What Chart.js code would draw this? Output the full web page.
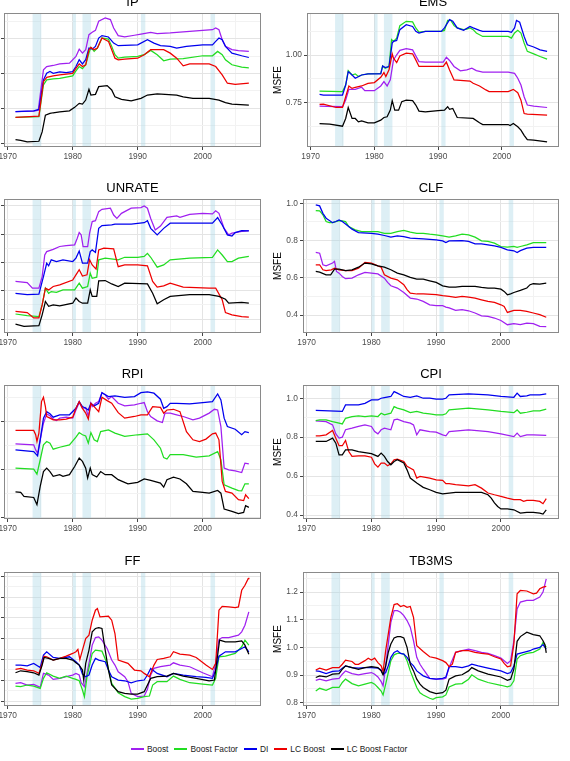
<!DOCTYPE html>
<html><head><meta charset="utf-8">
<script src="https://cdn.jsdelivr.net/npm/chart.js@4/dist/chart.umd.min.js"></script>
<style>
html,body{margin:0;padding:0;width:570px;height:761px;overflow:hidden;background:#fff;font-family:"Liberation Sans",Arial,sans-serif;position:relative;}
canvas{position:absolute;}
.ptitle{position:absolute;font-size:13px;line-height:16px;height:16px;color:#000;text-align:center;white-space:nowrap;}
#legend{position:absolute;left:131px;top:743px;height:12px;display:flex;align-items:center;font-size:8.4px;color:#1a1a1a;white-space:nowrap;}
.item{display:flex;align-items:center;margin-right:6px;}
.key{display:inline-block;width:13px;height:1.6px;margin-right:3px;}
</style></head><body>
<div id="legend"></div>
<script>
// ---------------- DATA ----------------
const seriesNames = ['Boost','Boost Factor','DI','LC Boost','LC Boost Factor'];
const seriesColors = ['#A020F0','#22DD22','#0000EE','#EE0000','#000000'];
const recessions = [[1973.83,1975.17],[1980.0,1980.5],[1981.5,1982.83],[1990.5,1991.17],[2001.2,2001.9]];
const xTicks = [1970,1975,1980,1985,1990,1995,2000,2005];
const xMajor = [1970,1980,1990,2000];
const xRange = [1969.43,2008.97];

// IP
const IP_boost = [[1971.2,0.780],[1974,0.783],[1974.7,0.789],[1975.5,1.021],[1976,1.040],[1977,1.046],[1978,1.055],[1979.5,1.059],[1980.5,1.098],[1981,1.140],[1981.5,1.117],[1982,1.137],[1982.5,1.223],[1983,1.237],[1983.5,1.248],[1984,1.301],[1985,1.320],[1985.8,1.310],[1986.3,1.262],[1987,1.218],[1988,1.210],[1989.5,1.220],[1990.5,1.227],[1992,1.237],[1993,1.229],[1995,1.233],[1997,1.239],[2000,1.248],[2001.5,1.252],[2002,1.262],[2002.5,1.252],[2003,1.194],[2003.5,1.156],[2004.5,1.137],[2005.5,1.131],[2007.1,1.127]];
const IP_boostFactor = [[1971.2,0.747],[1974.8,0.751],[1975.5,0.934],[1976,0.963],[1977,0.969],[1978,0.972],[1980,0.986],[1980.5,1.015],[1981,1.040],[1981.5,1.028],[1982,1.050],[1982.5,1.117],[1982.8,1.150],[1983.3,1.127],[1983.8,1.146],[1984.5,1.204],[1985.5,1.198],[1986,1.156],[1986.5,1.108],[1987,1.088],[1988,1.094],[1990,1.098],[1991,1.108],[1992,1.133],[1993,1.108],[1994,1.073],[1995,1.083],[1997,1.086],[2000,1.102],[2001.5,1.102],[2002.3,1.127],[2003,1.108],[2003.5,1.079],[2004.5,1.050],[2006,1.036],[2007.1,1.032]];
const IP_di = [[1971.2,0.780],[1974,0.785],[1974.8,0.793],[1975.5,0.963],[1976,1.001],[1976.5,1.011],[1977,1.001],[1978,1.009],[1979,1.005],[1980,1.011],[1980.5,1.040],[1981,1.079],[1981.5,1.055],[1982,1.079],[1982.5,1.146],[1983,1.140],[1983.5,1.156],[1984,1.204],[1984.5,1.218],[1985.5,1.210],[1986.3,1.175],[1987,1.160],[1990,1.165],[1991.5,1.194],[1992.5,1.175],[1993.5,1.160],[1995,1.156],[1996,1.146],[1997.5,1.156],[2000,1.165],[2001.5,1.165],[2002,1.185],[2002.5,1.204],[2003,1.194],[2003.5,1.156],[2004.5,1.117],[2006,1.102],[2007.1,1.092]];
const IP_lcBoost = [[1971.2,0.747],[1974.8,0.754],[1975.5,0.953],[1976,0.978],[1977,0.986],[1978,0.992],[1980,1.001],[1980.5,1.030],[1981,1.055],[1981.5,1.040],[1982,1.050],[1982.5,1.137],[1982.8,1.150],[1983.3,1.137],[1983.8,1.146],[1984.5,1.204],[1985.5,1.185],[1986,1.137],[1986.5,1.088],[1987,1.079],[1988,1.083],[1990,1.088],[1991,1.108],[1992,1.137],[1994,1.137],[1995,1.117],[1996,1.088],[1997,1.044],[1998,1.055],[2001,1.055],[2002,1.040],[2003,0.992],[2003.8,0.944],[2005,0.938],[2007.1,0.944]];
const IP_lcBoostFactor = [[1971.2,0.619],[1972,0.615],[1973,0.606],[1974.8,0.610],[1975.3,0.664],[1975.8,0.760],[1976.5,0.770],[1977,0.774],[1978,0.779],[1979.5,0.785],[1980.3,0.805],[1981,0.828],[1981.5,0.824],[1982,0.847],[1982.5,0.909],[1982.8,0.876],[1983.5,0.880],[1984,0.924],[1985.3,0.930],[1986,0.905],[1986.5,0.866],[1987.5,0.851],[1989,0.843],[1990.5,0.857],[1991.5,0.876],[1993,0.882],[1996,0.876],[1997,0.866],[1998.5,0.857],[2001,0.857],[2002.5,0.847],[2003.5,0.832],[2004.5,0.824],[2007.1,0.818]];
const IP_yRange = [0.577,1.348];
const IP_yTicks = [0.6,0.7,0.8,0.9,1.0,1.1,1.2,1.3];
const IP_yMajor = [0.6,0.8,1.0,1.2];

// EMS
const EMS_boost = [[1971.4,0.730],[1975,0.727],[1975.5,0.762],[1976,0.819],[1977,0.819],[1978,0.830],[1978.5,0.812],[1980,0.812],[1981,0.837],[1981.5,0.860],[1982,0.837],[1982.5,0.869],[1983,0.975],[1983.5,1.002],[1984,1.025],[1985,1.034],[1986,1.028],[1986.5,0.996],[1987,0.966],[1988,0.963],[1990.8,0.963],[1991.3,0.989],[1991.8,0.972],[1992.5,0.940],[1993.5,0.917],[1994.5,0.922],[1995.3,0.931],[1996,0.918],[1997,0.910],[2001,0.910],[2002,0.904],[2002.5,0.878],[2003,0.842],[2003.5,0.780],[2004,0.736],[2005,0.730],[2007.1,0.723]];
const EMS_boostFactor = [[1971.4,0.810],[1975,0.807],[1975.5,0.842],[1975.9,0.918],[1976.5,0.895],[1977,0.901],[1977.5,0.887],[1978,0.895],[1979,0.901],[1981,0.904],[1981.3,0.943],[1981.7,0.931],[1982.3,0.940],[1982.7,1.082],[1983,1.073],[1983.5,1.090],[1984,1.156],[1985,1.179],[1986,1.176],[1986.5,1.144],[1987,1.122],[1988,1.126],[1990.5,1.126],[1991,1.131],[1991.5,1.184],[1992,1.184],[1992.5,1.156],[1993,1.144],[1994,1.135],[1994.5,1.138],[1995,1.144],[1995.5,1.135],[1996,1.117],[1997,1.099],[2001,1.099],[2001.5,1.090],[2002,1.117],[2002.5,1.131],[2003,1.117],[2003.5,1.064],[2004,1.020],[2005,1.007],[2006,0.993],[2007.1,0.979]];
const EMS_di = [[1971.4,0.793],[1972,0.789],[1975,0.789],[1975.5,0.842],[1975.9,0.913],[1976.5,0.895],[1977,0.878],[1978,0.895],[1979,0.901],[1981,0.901],[1981.3,0.943],[1981.7,0.934],[1982.3,0.940],[1982.8,1.064],[1983,1.073],[1983.5,1.078],[1984,1.135],[1985,1.161],[1986,1.152],[1986.5,1.126],[1987,1.117],[1988,1.126],[1990.5,1.126],[1991,1.144],[1991.8,1.188],[1992.3,1.179],[1993,1.144],[1994,1.131],[1995,1.152],[1995.5,1.144],[1996.5,1.131],[1997,1.126],[2001,1.126],[2001.5,1.121],[2002,1.144],[2002.3,1.184],[2002.8,1.174],[2003.5,1.099],[2004,1.055],[2005,1.043],[2006,1.028],[2007.1,1.020]];
const EMS_lcBoost = [[1971.4,0.739],[1972,0.741],[1974,0.723],[1975,0.723],[1975.5,0.780],[1976,0.837],[1976.5,0.824],[1977,0.830],[1978,0.837],[1979,0.851],[1980,0.855],[1981,0.883],[1981.5,0.908],[1981.8,0.887],[1982.3,0.922],[1982.8,1.007],[1983,0.984],[1983.5,0.961],[1984,0.996],[1985,1.011],[1986,1.007],[1986.5,0.975],[1987,0.940],[1990.8,0.940],[1991.3,0.963],[1991.8,0.922],[1992.5,0.869],[1995,0.863],[1995.5,0.851],[1996.5,0.837],[1997.5,0.816],[1998,0.807],[2001,0.807],[2001.8,0.819],[2002.5,0.801],[2003,0.762],[2003.5,0.691],[2004,0.688],[2007.1,0.683]];
const EMS_lcBoostFactor = [[1971.4,0.638],[1973,0.635],[1975,0.624],[1975.5,0.665],[1975.9,0.723],[1976.5,0.665],[1977,0.665],[1977.5,0.647],[1978,0.652],[1979,0.642],[1980,0.642],[1981,0.656],[1981.5,0.670],[1982,0.674],[1982.5,0.709],[1982.8,0.759],[1983.2,0.709],[1983.8,0.709],[1984.3,0.754],[1985,0.762],[1986,0.759],[1986.5,0.736],[1987,0.704],[1988,0.700],[1990,0.706],[1991,0.709],[1991.5,0.727],[1991.8,0.713],[1992.3,0.718],[1993,0.670],[1995.5,0.665],[1996.5,0.642],[1997,0.633],[2001,0.633],[2001.3,0.628],[2001.8,0.638],[2002.5,0.621],[2003,0.603],[2003.5,0.576],[2004,0.553],[2005,0.550],[2007.1,0.541]];
const EMS_yRange = [0.514,1.223];
const EMS_yTicks = [0.625,0.75,0.875,1.0,1.125];
const EMS_yMajor = [0.75,1.0];

// UNRATE
const UNRATE_boost = [[1971.2,0.733],[1973,0.729],[1973.8,0.709],[1974.8,0.709],[1975.3,0.750],[1975.7,0.826],[1976,0.838],[1977,0.846],[1978,0.856],[1979,0.859],[1980.3,0.862],[1980.7,0.885],[1981,0.905],[1981.3,0.897],[1981.6,0.856],[1982.3,0.856],[1982.6,0.903],[1983,0.944],[1983.5,0.947],[1984,0.979],[1984.5,0.987],[1985.8,0.991],[1986.3,0.967],[1986.8,0.955],[1987.5,0.973],[1989,0.991],[1990.5,0.993],[1991,0.999],[1991.5,0.991],[1992,0.955],[1992.7,0.914],[1993.5,0.928],[1994.5,0.959],[1996,0.964],[1996.5,0.959],[1998,0.969],[2000,0.973],[2001.5,0.971],[2002,0.982],[2002.5,0.973],[2003.3,0.920],[2004,0.897],[2004.5,0.903],[2005,0.905],[2006,0.909],[2007.1,0.912]];
const UNRATE_boostFactor = [[1971.2,0.618],[1973,0.612],[1974.8,0.609],[1975.3,0.650],[1975.8,0.709],[1976.3,0.691],[1976.7,0.697],[1977.5,0.694],[1978.5,0.703],[1980.3,0.703],[1981,0.727],[1981.5,0.709],[1982.3,0.715],[1982.7,0.762],[1983,0.744],[1983.7,0.748],[1984,0.809],[1985,0.815],[1986.5,0.811],[1987,0.809],[1988,0.818],[1990,0.818],[1991,0.821],[1991.5,0.832],[1992,0.818],[1993,0.783],[1994,0.791],[1995,0.809],[1998,0.815],[2001.5,0.818],[2002.3,0.844],[2003,0.826],[2003.8,0.803],[2004.5,0.803],[2005.5,0.815],[2007.1,0.821]];
const UNRATE_di = [[1971.2,0.691],[1973,0.686],[1974.8,0.688],[1975.5,0.750],[1976,0.797],[1976.3,0.788],[1976.7,0.809],[1977.5,0.803],[1978.5,0.809],[1980,0.803],[1980.5,0.815],[1981,0.840],[1981.5,0.797],[1982.3,0.797],[1982.7,0.838],[1983,0.844],[1983.5,0.835],[1984,0.920],[1984.5,0.930],[1986,0.932],[1986.5,0.935],[1989,0.935],[1991,0.940],[1991.5,0.947],[1992,0.920],[1993,0.897],[1994,0.920],[1995,0.938],[1997,0.938],[2000,0.938],[2001.5,0.938],[2002.3,0.958],[2003,0.932],[2003.8,0.897],[2004.5,0.893],[2005,0.905],[2006,0.912],[2007.1,0.911]];
const UNRATE_lcBoost = [[1971.2,0.627],[1973,0.623],[1974,0.604],[1974.8,0.604],[1975.3,0.650],[1975.8,0.709],[1976.3,0.703],[1977,0.715],[1978,0.721],[1980,0.738],[1980.5,0.756],[1981,0.774],[1981.5,0.752],[1982.2,0.756],[1982.6,0.809],[1983,0.791],[1983.6,0.776],[1984,0.844],[1984.8,0.850],[1986.3,0.848],[1987,0.785],[1988,0.791],[1990,0.791],[1991.5,0.788],[1992.3,0.733],[1993,0.713],[1994,0.717],[1995,0.727],[1997,0.713],[2001,0.709],[2002,0.709],[2003,0.668],[2003.5,0.623],[2004.5,0.615],[2006,0.609],[2007.1,0.607]];
const UNRATE_lcBoostFactor = [[1971.2,0.582],[1972.5,0.574],[1974.8,0.577],[1975.3,0.615],[1975.8,0.662],[1976.3,0.645],[1977,0.650],[1978,0.647],[1980,0.656],[1980.5,0.674],[1981,0.662],[1981.5,0.656],[1982.3,0.656],[1982.7,0.703],[1983,0.680],[1983.7,0.680],[1984,0.735],[1985,0.736],[1986,0.724],[1987,0.715],[1988,0.727],[1991.5,0.724],[1992.3,0.691],[1993,0.654],[1994,0.668],[1995,0.680],[1998,0.686],[2001,0.686],[2002.5,0.680],[2003.5,0.670],[2004,0.656],[2006,0.659],[2007.1,0.656]];
const UNRATE_yRange = [0.551,1.0235];
const UNRATE_yTicks = [0.6,0.65,0.7,0.75,0.8,0.85,0.9,0.95,1.0];
const UNRATE_yMajor = [0.6,0.7,0.8,0.9,1.0];

// CLF
const CLF_boost = [[1971.4,0.736],[1972,0.732],[1972.5,0.670],[1973,0.664],[1974,0.679],[1974.3,0.688],[1974.6,0.634],[1975,0.625],[1975.5,0.607],[1976,0.595],[1977,0.598],[1978,0.616],[1979,0.629],[1980,0.625],[1981,0.621],[1982,0.598],[1982.5,0.575],[1983,0.557],[1984,0.545],[1985,0.521],[1986,0.491],[1987,0.486],[1988,0.473],[1989,0.455],[1990,0.450],[1991,0.450],[1991.5,0.443],[1992,0.438],[1993,0.425],[1994,0.429],[1995,0.423],[1996,0.411],[1997,0.396],[1998,0.393],[1999,0.384],[2000,0.371],[2001,0.348],[2002,0.354],[2003,0.348],[2004,0.357],[2005,0.354],[2006,0.339],[2007,0.338]];
const CLF_boostFactor = [[1971.4,0.961],[1972,0.959],[1972.5,0.938],[1973,0.902],[1973.5,0.896],[1974,0.896],[1974.5,0.902],[1975,0.907],[1975.5,0.905],[1976,0.902],[1976.5,0.875],[1977.5,0.857],[1978.5,0.848],[1980,0.848],[1981,0.848],[1982,0.839],[1983,0.839],[1984,0.848],[1985,0.854],[1986,0.845],[1987,0.839],[1988,0.839],[1989,0.834],[1990,0.830],[1991,0.825],[1992,0.818],[1993,0.825],[1994,0.834],[1995,0.830],[1996,0.818],[1997,0.798],[1998,0.795],[1999,0.786],[2000,0.768],[2001,0.764],[2002,0.768],[2002.5,0.763],[2003,0.768],[2004,0.777],[2005,0.789],[2007,0.789]];
const CLF_di = [[1971.4,0.991],[1972,0.986],[1972.5,0.946],[1973,0.920],[1974,0.896],[1974.5,0.902],[1975,0.911],[1975.5,0.902],[1976,0.889],[1977,0.861],[1978,0.843],[1980,0.839],[1981,0.834],[1982,0.827],[1983,0.818],[1984,0.825],[1985,0.821],[1986,0.813],[1988,0.809],[1990,0.804],[1991,0.798],[1991.5,0.789],[1992,0.798],[1994,0.800],[1995,0.795],[1996,0.782],[1997,0.782],[1998,0.777],[1999,0.771],[2000,0.763],[2001,0.750],[2002,0.745],[2002.5,0.736],[2003,0.746],[2004,0.759],[2005,0.763],[2007,0.763]];
const CLF_lcBoost = [[1971.4,0.670],[1972,0.670],[1972.5,0.643],[1973,0.638],[1973.8,0.643],[1974.3,0.652],[1975,0.643],[1976,0.639],[1977,0.639],[1978,0.652],[1979,0.682],[1980,0.679],[1981,0.664],[1981.5,0.657],[1982,0.616],[1983,0.598],[1984,0.589],[1985,0.563],[1985.5,0.536],[1986,0.518],[1987,0.513],[1988,0.513],[1990,0.509],[1991,0.504],[1992,0.500],[1993,0.495],[1994,0.500],[1995,0.496],[1996,0.491],[1997,0.482],[1998,0.473],[1999,0.468],[2000,0.455],[2000.5,0.446],[2001,0.414],[2002,0.425],[2003,0.425],[2004,0.420],[2005,0.411],[2006,0.402],[2007,0.388]];
const CLF_lcBoostFactor = [[1971.4,0.634],[1972,0.630],[1973,0.616],[1973.7,0.616],[1974.3,0.646],[1975,0.646],[1976,0.639],[1977,0.643],[1978,0.657],[1979,0.679],[1980,0.675],[1981,0.664],[1982,0.657],[1983,0.643],[1984,0.625],[1985,0.616],[1986,0.602],[1987,0.593],[1988,0.593],[1989,0.584],[1990,0.575],[1991,0.557],[1992,0.550],[1993,0.550],[1994,0.554],[1995,0.554],[1996,0.554],[1997,0.548],[1998,0.545],[1999,0.545],[2000,0.539],[2000.5,0.527],[2001,0.509],[2001.5,0.514],[2002,0.521],[2003,0.532],[2004,0.545],[2004.5,0.563],[2005,0.568],[2006,0.566],[2007,0.571]];
const CLF_yRange = [0.3036,1.023];
const CLF_yTicks = [0.4,0.5,0.6,0.7,0.8,0.9,1.0];
const CLF_yMajor = [0.4,0.6,0.8,1.0];

// RPI
const RPI_boost = [[1971.2,0.907],[1974,0.903],[1974.3,0.882],[1974.6,0.868],[1975,0.924],[1975.5,0.993],[1976,1.032],[1976.5,1.024],[1977,1.010],[1977.5,1.004],[1978,1.014],[1979,1.018],[1980,1.014],[1980.5,1.048],[1981,1.079],[1981.5,1.055],[1982,1.058],[1982.4,1.021],[1982.8,1.076],[1983,1.062],[1983.5,1.076],[1984,1.083],[1984.5,1.120],[1985,1.111],[1985.5,1.093],[1986,1.104],[1987,1.076],[1988,1.065],[1989.5,1.069],[1990.5,1.076],[1991,1.079],[1991.5,1.041],[1992,1.021],[1993,1.003],[1993.8,0.996],[1994.2,1.035],[1995,1.035],[1996,1.028],[1997,1.021],[1998.5,1.007],[1999.5,1.014],[2001,1.035],[2001.8,1.051],[2002.3,1.048],[2002.8,0.979],[2003.3,0.806],[2004,0.799],[2005,0.795],[2006,0.788],[2006.5,0.827],[2007.1,0.824]];
const RPI_boostFactor = [[1971.2,0.806],[1974,0.802],[1974.5,0.781],[1975,0.841],[1975.5,0.903],[1976,0.917],[1976.5,0.910],[1977,0.885],[1978,0.893],[1979.5,0.903],[1980.5,0.935],[1981,0.954],[1981.5,0.945],[1982,0.940],[1982.4,0.910],[1982.8,0.954],[1983.3,0.924],[1983.8,0.917],[1984.3,0.958],[1985.5,0.965],[1986.5,0.952],[1988,0.938],[1990,0.945],[1991.5,0.949],[1992.5,0.924],[1993.5,0.889],[1994,0.850],[1994.5,0.844],[1995,0.862],[1997,0.862],[1999,0.852],[2001,0.857],[2002.3,0.875],[2002.8,0.841],[2003.3,0.737],[2004.5,0.723],[2005.5,0.713],[2006,0.712],[2006.5,0.741],[2007.1,0.741]];
const RPI_di = [[1971.2,0.882],[1974,0.875],[1974.6,0.857],[1975,0.924],[1975.5,1.014],[1976,1.041],[1976.5,1.032],[1977,1.018],[1978,1.028],[1979.5,1.028],[1980.5,1.055],[1981,1.083],[1981.5,1.062],[1982,1.055],[1982.4,1.048],[1982.8,1.076],[1983.3,1.065],[1984,1.076],[1984.5,1.120],[1985.5,1.104],[1986.5,1.107],[1988,1.101],[1989.5,1.104],[1990.5,1.120],[1991.5,1.123],[1992.5,1.118],[1993.5,1.093],[1994,1.055],[1994.5,1.062],[1995,1.076],[1996,1.076],[1998,1.073],[2000,1.079],[2001.5,1.083],[2002.3,1.115],[2002.8,1.090],[2003.3,1.014],[2003.8,0.979],[2005,0.968],[2006,0.945],[2006.5,0.958],[2007.1,0.954]];
const RPI_lcBoost = [[1971.2,0.963],[1974,0.963],[1974.3,0.945],[1974.5,0.917],[1974.8,0.952],[1975.2,1.083],[1975.5,1.101],[1975.8,1.062],[1976,1.021],[1976.5,1.014],[1977,1.007],[1978,1.007],[1979,1.010],[1980,1.018],[1980.5,1.055],[1981,1.083],[1981.5,1.055],[1982,1.035],[1982.4,1.010],[1982.8,1.076],[1983.3,1.062],[1984,1.041],[1984.5,1.101],[1985.3,1.087],[1986,1.076],[1987,1.037],[1988,1.014],[1989.5,1.021],[1990.5,1.028],[1991.5,1.028],[1992.3,1.062],[1993.5,1.059],[1994,1.035],[1994.5,1.048],[1995.5,1.051],[1996.5,1.041],[1997.5,0.958],[1998.5,0.924],[1999.5,0.917],[2000.5,0.927],[2001.5,0.949],[2002,0.952],[2002.5,0.924],[2003,0.751],[2003.5,0.709],[2004.5,0.702],[2005.5,0.675],[2006.3,0.671],[2006.6,0.695],[2007.1,0.679]];
const RPI_lcBoostFactor = [[1971.2,0.707],[1972,0.705],[1972.5,0.689],[1974,0.684],[1974.5,0.654],[1975,0.730],[1975.5,0.792],[1976,0.806],[1976.5,0.792],[1977,0.772],[1978,0.779],[1978.5,0.772],[1979.5,0.779],[1980.3,0.813],[1981,0.848],[1981.5,0.834],[1982,0.806],[1982.3,0.765],[1982.7,0.806],[1983,0.779],[1983.7,0.769],[1984.3,0.792],[1985,0.779],[1986,0.779],[1987,0.758],[1988.5,0.741],[1990,0.747],[1991,0.761],[1992,0.755],[1993.5,0.744],[1994,0.727],[1994.5,0.758],[1995.5,0.769],[1996.5,0.761],[1997.5,0.741],[1998.5,0.709],[2000,0.705],[2001,0.702],[2002.3,0.713],[2002.8,0.702],[2003.3,0.636],[2004.5,0.626],[2005.5,0.617],[2006.3,0.622],[2006.6,0.650],[2007.1,0.643]];
const RPI_yRange = [0.5945,1.152];
const RPI_yTicks = [0.6,0.7,0.8,0.9,1.0,1.1];
const RPI_yMajor = [0.6,0.8,1.0];

// CPI
const CPI_boost = [[1971.4,0.884],[1973,0.880],[1974,0.863],[1974.5,0.817],[1975,0.795],[1975.5,0.800],[1976,0.838],[1977,0.846],[1978,0.855],[1979,0.863],[1980,0.855],[1980.5,0.829],[1981,0.817],[1981.5,0.838],[1982,0.846],[1983,0.838],[1983.5,0.889],[1984,0.892],[1985,0.880],[1986,0.872],[1986.5,0.863],[1987,0.812],[1987.5,0.838],[1989,0.829],[1990,0.826],[1991,0.812],[1991.5,0.807],[1992,0.829],[1995,0.838],[1998,0.829],[2000,0.817],[2002,0.803],[2002.5,0.821],[2003,0.803],[2004,0.812],[2005,0.812],[2007,0.809]];
const CPI_boostFactor = [[1971.4,0.885],[1972,0.889],[1973,0.889],[1974,0.880],[1975,0.872],[1975.5,0.868],[1976,0.897],[1977,0.906],[1978,0.909],[1979,0.906],[1980,0.909],[1981,0.906],[1981.5,0.923],[1982,0.915],[1983,0.923],[1983.5,0.957],[1984,0.949],[1985,0.940],[1986,0.926],[1987,0.932],[1988,0.923],[1989,0.920],[1990,0.915],[1991,0.915],[1991.5,0.920],[1992,0.940],[1995,0.949],[1998,0.940],[2000,0.932],[2002,0.926],[2002.5,0.940],[2003,0.923],[2004,0.928],[2005,0.935],[2006,0.935],[2007,0.944]];
const CPI_di = [[1971.4,0.937],[1975.5,0.932],[1976,0.966],[1978,0.966],[1979,0.974],[1980,0.991],[1981,0.991],[1981.5,1.000],[1982,1.003],[1983,1.009],[1983.5,1.034],[1984,1.026],[1985,1.009],[1986,1.005],[1987,1.012],[1988,1.000],[1989,1.000],[1990,0.995],[1991,0.995],[1991.5,1.000],[1992,1.017],[1995,1.022],[1998,1.017],[2000,1.009],[2002,1.005],[2002.5,1.026],[2003,1.009],[2004,1.012],[2004.5,1.017],[2006,1.017],[2007,1.022]];
const CPI_lcBoost = [[1971.4,0.807],[1972,0.807],[1973,0.812],[1974,0.834],[1974.5,0.795],[1975,0.756],[1975.5,0.756],[1976,0.783],[1976.5,0.726],[1977,0.701],[1978,0.704],[1979,0.704],[1980,0.697],[1980.5,0.663],[1981,0.646],[1981.5,0.667],[1982,0.667],[1982.5,0.653],[1983,0.663],[1983.5,0.684],[1984,0.687],[1985,0.675],[1985.5,0.650],[1986.5,0.632],[1987,0.590],[1987.5,0.598],[1989,0.590],[1990,0.581],[1991,0.578],[1991.5,0.561],[1992,0.561],[1993,0.556],[1995,0.550],[1996,0.556],[1997,0.538],[1998,0.513],[1999,0.504],[2000,0.496],[2001,0.487],[2002,0.479],[2003,0.479],[2003.5,0.470],[2004,0.475],[2005,0.475],[2006,0.470],[2006.5,0.458],[2007,0.484]];
const CPI_lcBoostFactor = [[1971.4,0.778],[1973,0.778],[1974,0.795],[1974.5,0.769],[1975,0.709],[1975.5,0.709],[1976,0.735],[1977,0.735],[1978,0.726],[1979,0.721],[1980,0.715],[1981,0.701],[1981.5,0.718],[1982,0.701],[1982.5,0.675],[1983,0.658],[1983.5,0.675],[1984,0.684],[1985,0.667],[1985.5,0.632],[1986,0.590],[1987,0.564],[1988,0.542],[1989,0.530],[1990,0.516],[1991,0.509],[1992,0.513],[1993,0.516],[1995,0.516],[1997,0.516],[1998,0.504],[1998.5,0.487],[1999,0.462],[1999.5,0.444],[2000,0.431],[2001,0.431],[2002,0.427],[2003,0.410],[2004,0.414],[2005,0.414],[2006,0.410],[2006.5,0.405],[2007,0.427]];
const CPI_yRange = [0.3795,1.068];
const CPI_yTicks = [0.4,0.5,0.6,0.7,0.8,0.9,1.0];
const CPI_yMajor = [0.4,0.6,0.8,1.0];

// FF
const FF_boost = [[1971.2,0.970],[1972,0.976],[1973,0.954],[1974,0.960],[1975,0.931],[1975.5,1.066],[1976.3,1.050],[1977,1.008],[1978,1.018],[1979,1.034],[1980,1.050],[1980.5,1.066],[1981,1.050],[1981.3,0.976],[1981.8,0.938],[1982.3,1.098],[1982.7,1.226],[1983,1.338],[1983.5,1.411],[1984,1.418],[1984.5,1.386],[1985.3,1.306],[1986,1.194],[1986.5,1.146],[1987,1.082],[1988,1.034],[1988.5,0.986],[1989,0.874],[1990,0.842],[1991,0.848],[1991.5,0.912],[1992,1.050],[1992.5,1.114],[1993.5,1.130],[1995,1.146],[1995.5,1.168],[1996.5,1.146],[1998,1.130],[2000,1.072],[2001.5,1.034],[2002,1.162],[2002.5,1.392],[2003,1.411],[2004,1.411],[2005.5,1.434],[2006,1.466],[2006.5,1.530],[2007.1,1.658]];
const FF_boostFactor = [[1971.2,0.944],[1972,0.938],[1973,0.954],[1974,0.944],[1975,0.922],[1975.5,1.018],[1976,1.072],[1977,1.040],[1978,1.018],[1979,1.040],[1980,1.018],[1980.5,1.008],[1981,0.995],[1981.5,0.906],[1981.8,0.842],[1982.2,1.034],[1982.6,1.146],[1983,1.258],[1983.5,1.290],[1984.5,1.280],[1985.3,1.162],[1986,0.970],[1987,0.880],[1988,0.842],[1989,0.819],[1990,0.826],[1991,0.842],[1991.8,0.848],[1992.3,0.954],[1993,0.986],[1994.5,0.986],[1995.5,1.040],[1996.5,1.008],[1998,0.976],[2000,0.963],[2001.5,0.954],[2002,1.018],[2002.5,1.226],[2003.5,1.232],[2005,1.258],[2006,1.322],[2006.5,1.386],[2007.1,1.338]];
const FF_di = [[1971.2,1.146],[1972,1.146],[1973,1.139],[1974,1.162],[1975,1.123],[1975.5,1.242],[1976,1.274],[1977,1.219],[1978,1.210],[1979.5,1.226],[1980.5,1.178],[1981,1.146],[1981.5,1.059],[1982,1.034],[1982.5,1.050],[1983,1.146],[1983.5,1.210],[1984,1.194],[1985,1.178],[1985.5,1.098],[1986,1.034],[1987,1.002],[1988,0.995],[1989,0.976],[1990,0.995],[1991,1.002],[1991.5,1.050],[1992,1.114],[1993,1.066],[1994.5,1.034],[1995.5,1.066],[1997,1.050],[1999,1.034],[2000.5,1.027],[2001.5,1.018],[2002,1.098],[2002.5,1.232],[2003.5,1.274],[2005,1.274],[2006,1.306],[2006.5,1.322],[2007.1,1.274]];
const FF_lcBoost = [[1971.2,1.104],[1972,1.114],[1973,1.098],[1974,1.091],[1974.8,1.066],[1975.3,1.162],[1975.6,1.232],[1976,1.226],[1977,1.194],[1978,1.210],[1979,1.232],[1980,1.258],[1980.5,1.274],[1980.8,1.296],[1981.1,1.200],[1981.5,1.290],[1982,1.402],[1982.5,1.434],[1983,1.578],[1983.5,1.674],[1983.8,1.690],[1984.2,1.610],[1985.5,1.616],[1986,1.578],[1986.5,1.450],[1987,1.194],[1988.5,1.162],[1989.5,1.098],[1990.5,1.091],[1991,1.066],[1991.8,1.034],[1992.5,1.146],[1993,1.200],[1994,1.210],[1995,1.226],[1995.5,1.274],[1996.5,1.251],[1998,1.242],[1999,1.219],[2000.5,1.146],[2001.5,1.104],[2002,1.162],[2002.5,1.674],[2003,1.712],[2004,1.706],[2005,1.699],[2005.5,1.706],[2006,1.866],[2006.5,1.914],[2007,1.978],[2007.1,1.987]];
const FF_lcBoostFactor = [[1971.2,1.072],[1972,1.091],[1973,1.082],[1974,1.072],[1974.8,1.050],[1975.3,1.146],[1975.6,1.219],[1976.3,1.210],[1977,1.194],[1978,1.210],[1979,1.210],[1980,1.194],[1980.5,1.168],[1981,1.146],[1981.5,1.098],[1981.7,1.002],[1982,1.162],[1982.5,1.290],[1983,1.466],[1983.5,1.498],[1984,1.507],[1984.5,1.498],[1985,1.290],[1985.5,1.098],[1986,0.954],[1987,0.890],[1988,0.874],[1989,0.867],[1990,0.867],[1991,0.890],[1992,1.018],[1993,1.034],[1994.5,1.040],[1995.5,1.066],[1997,1.040],[1999,1.018],[2001,0.995],[2001.8,1.002],[2002.2,1.194],[2002.6,1.386],[2003.5,1.370],[2005,1.370],[2006,1.379],[2006.5,1.338],[2007.1,1.251]];
const FF_yRange = [0.752,2.042];
const FF_yTicks = [0.8,0.9,1.0,1.1,1.2,1.3,1.4,1.5,1.6,1.7,1.8,1.9,2.0];
const FF_yMajor = [0.8,1.0,1.2,1.4,1.6,1.8,2.0];

// TB3MS
const TB3MS_boost = [[1971.4,0.881],[1972,0.885],[1973,0.879],[1974,0.885],[1975,0.888],[1975.5,0.903],[1976,0.915],[1977,0.905],[1978,0.901],[1979,0.905],[1980,0.909],[1980.5,0.903],[1981,0.893],[1981.5,0.876],[1981.8,0.861],[1982.2,0.933],[1982.6,1.012],[1983,1.091],[1983.5,1.133],[1984,1.133],[1984.5,1.127],[1985,1.115],[1985.5,1.097],[1986,1.073],[1986.5,1.024],[1987,0.964],[1987.5,0.939],[1988,0.921],[1989,0.888],[1990,0.885],[1991,0.885],[1991.5,0.888],[1992,0.927],[1993,0.982],[1994,0.988],[1995,0.994],[1996,0.988],[1997,0.982],[1998,0.978],[1999,0.970],[2000,0.961],[2000.5,0.952],[2001,0.942],[2001.5,0.952],[2002,1.024],[2002.5,1.139],[2003,1.164],[2004,1.170],[2005,1.170],[2006,1.182],[2006.5,1.200],[2007,1.248]];
const TB3MS_boostFactor = [[1971.4,0.842],[1972,0.852],[1973,0.845],[1974,0.855],[1975,0.855],[1975.5,0.873],[1976,0.885],[1977,0.869],[1978,0.861],[1979,0.867],[1980,0.873],[1980.5,0.867],[1981,0.855],[1981.5,0.842],[1981.8,0.828],[1982.2,0.867],[1982.6,0.909],[1983,0.952],[1983.5,0.973],[1984,0.978],[1984.5,0.978],[1985,0.976],[1985.5,0.952],[1986,0.915],[1986.5,0.885],[1987,0.855],[1987.5,0.836],[1988,0.828],[1989,0.816],[1989.5,0.812],[1990,0.818],[1991,0.821],[1991.5,0.828],[1992,0.857],[1993,0.867],[1994,0.869],[1995,0.885],[1995.5,0.901],[1996.5,0.885],[1998,0.873],[2000,0.863],[2001,0.857],[2001.5,0.861],[2002,0.879],[2002.5,0.958],[2003,0.970],[2004,0.978],[2005,0.982],[2006,0.994],[2006.5,1.018],[2007,1.000]];
const TB3MS_di = [[1971.4,0.915],[1972,0.913],[1973,0.905],[1974,0.913],[1975,0.915],[1975.5,0.925],[1976,0.933],[1977,0.927],[1978,0.925],[1979,0.927],[1980,0.927],[1981,0.925],[1981.5,0.918],[1981.8,0.903],[1982.2,0.909],[1982.6,0.933],[1983,0.964],[1983.5,0.982],[1984,0.988],[1984.5,0.978],[1985,0.976],[1985.5,0.964],[1986,0.945],[1986.5,0.933],[1987,0.915],[1988,0.897],[1989,0.888],[1990,0.885],[1991,0.888],[1991.5,0.893],[1992,0.930],[1993,0.930],[1994,0.927],[1995,0.933],[1995.5,0.939],[1996.5,0.933],[1998,0.925],[2000,0.915],[2001,0.905],[2001.5,0.909],[2002,0.933],[2002.5,0.976],[2003.5,0.982],[2004.5,0.988],[2005,0.994],[2006,1.000],[2006.5,1.010],[2007,0.994]];
const TB3MS_lcBoost = [[1971.4,0.918],[1972,0.925],[1973,0.918],[1974,0.927],[1975,0.927],[1975.5,0.939],[1976,0.954],[1977,0.949],[1977.5,0.939],[1978,0.939],[1979,0.952],[1979.5,0.961],[1980,0.954],[1980.5,0.961],[1981,0.945],[1981.5,0.933],[1981.8,0.913],[1982.2,0.988],[1982.6,1.048],[1983,1.109],[1983.5,1.155],[1984,1.158],[1984.5,1.148],[1985,1.152],[1985.5,1.145],[1986,1.148],[1986.5,1.109],[1987,1.006],[1988,0.985],[1989,0.966],[1990,0.961],[1991,0.952],[1991.5,0.945],[1992,0.930],[1992.5,0.939],[1993,0.982],[1994,0.988],[1995,0.988],[1996,0.982],[1997,0.978],[1998,0.976],[1999,0.966],[2000,0.958],[2000.5,0.942],[2001,0.930],[2001.5,0.933],[2002,1.012],[2002.5,1.194],[2003,1.206],[2004,1.204],[2005,1.194],[2005.5,1.196],[2006,1.212],[2006.5,1.218],[2007,1.221]];
const TB3MS_lcBoostFactor = [[1971.4,0.891],[1972,0.897],[1973,0.893],[1974,0.903],[1975,0.905],[1975.5,0.921],[1976,0.933],[1977,0.927],[1978,0.921],[1979,0.927],[1980,0.930],[1981,0.927],[1981.5,0.915],[1981.8,0.901],[1982.2,0.933],[1982.6,0.982],[1983,1.012],[1983.5,1.034],[1984,1.039],[1984.5,1.039],[1985,1.034],[1985.5,1.000],[1986,0.939],[1986.5,0.915],[1987,0.885],[1987.5,0.867],[1988,0.855],[1989,0.840],[1990,0.833],[1991,0.836],[1991.5,0.845],[1992,0.885],[1993,0.897],[1994,0.901],[1995,0.915],[1995.5,0.927],[1996.5,0.915],[1998,0.903],[2000,0.893],[2001,0.881],[2001.5,0.885],[2002,0.921],[2002.5,1.022],[2003,1.039],[2004,1.055],[2005,1.046],[2006,1.042],[2006.5,1.024],[2006.8,1.010],[2007,0.980]];
const TB3MS_yRange = [0.788,1.2727];
const TB3MS_yTicks = [0.8,0.85,0.9,0.95,1.0,1.05,1.1,1.15,1.2,1.25];
const TB3MS_yMajor = [0.8,0.9,1.0,1.1,1.2];

// ---------------- LAYOUT ----------------
const FONT = '"Liberation Sans", Arial, sans-serif';
const panels = [
  {title:'IP', series:[IP_boost,IP_boostFactor,IP_di,IP_lcBoost,IP_lcBoostFactor], yRange:IP_yRange, yTicks:IP_yTicks, yMajor:IP_yMajor, dec:1, box:[4,13,261,147], showY:false},
  {title:'EMS', series:[EMS_boost,EMS_boostFactor,EMS_di,EMS_lcBoost,EMS_lcBoostFactor], yRange:EMS_yRange, yTicks:EMS_yTicks, yMajor:EMS_yMajor, dec:2, box:[307,13,559,147], showY:true},
  {title:'UNRATE', series:[UNRATE_boost,UNRATE_boostFactor,UNRATE_di,UNRATE_lcBoost,UNRATE_lcBoostFactor], yRange:UNRATE_yRange, yTicks:UNRATE_yTicks, yMajor:UNRATE_yMajor, dec:1, box:[4,199,261,333], showY:false},
  {title:'CLF', series:[CLF_boost,CLF_boostFactor,CLF_di,CLF_lcBoost,CLF_lcBoostFactor], yRange:CLF_yRange, yTicks:CLF_yTicks, yMajor:CLF_yMajor, dec:1, box:[303,199,559,333], showY:true},
  {title:'RPI', series:[RPI_boost,RPI_boostFactor,RPI_di,RPI_lcBoost,RPI_lcBoostFactor], yRange:RPI_yRange, yTicks:RPI_yTicks, yMajor:RPI_yMajor, dec:1, box:[4,385,261,519], showY:false},
  {title:'CPI', series:[CPI_boost,CPI_boostFactor,CPI_di,CPI_lcBoost,CPI_lcBoostFactor], yRange:CPI_yRange, yTicks:CPI_yTicks, yMajor:CPI_yMajor, dec:1, box:[303,385,559,519], showY:true},
  {title:'FF', series:[FF_boost,FF_boostFactor,FF_di,FF_lcBoost,FF_lcBoostFactor], yRange:FF_yRange, yTicks:FF_yTicks, yMajor:FF_yMajor, dec:1, box:[4,572,261,706], showY:false},
  {title:'TB3MS', series:[TB3MS_boost,TB3MS_boostFactor,TB3MS_di,TB3MS_lcBoost,TB3MS_lcBoostFactor], yRange:TB3MS_yRange, yTicks:TB3MS_yTicks, yMajor:TB3MS_yMajor, dec:1, box:[303,572,559,706], showY:true}
];

const isIn = (arr, v) => arr.some(m => Math.abs(m - v) < 1e-9);

const recessionPlugin = {
  id: 'recessions',
  beforeDatasetsDraw(chart) {
    const {ctx, chartArea: a, scales: {x}} = chart;
    ctx.save();
    ctx.fillStyle = 'rgba(173,216,230,0.42)';
    for (const [s, e] of recessions) {
      const x0 = x.getPixelForValue(s), x1 = x.getPixelForValue(e);
      ctx.fillRect(x0, a.top, x1 - x0, a.bottom - a.top);
    }
    ctx.restore();
  }
};
const framePlugin = {
  id: 'frame',
  afterDatasetsDraw(chart) {
    const {ctx, chartArea: a} = chart;
    ctx.save();
    ctx.strokeStyle = '#8a8a8a';
    ctx.lineWidth = 1;
    const l = Math.round(a.left) + 0.5, t = Math.round(a.top) + 0.5;
    const r = Math.round(a.right) - 0.5, b = Math.round(a.bottom) - 0.5;
    ctx.strokeRect(l, t, r - l, b - t);
    ctx.restore();
  }
};

function makePanel(p) {
  const [L, T, R, B] = p.box;
  const yw = p.showY ? L - 265 : 24;
  const padTop = 8, padRight = 4, xh = 20;
  const w = yw + (R - L) + padRight, h = padTop + (B - T) + xh;
  const c = document.createElement('canvas');
  c.width = w; c.height = h;
  c.style.left = (L - yw) + 'px'; c.style.top = (T - padTop) + 'px';
  c.style.width = w + 'px'; c.style.height = h + 'px';
  document.body.appendChild(c);

  const t = document.createElement('div');
  t.className = 'ptitle';
  t.textContent = p.title;
  t.style.left = L + 'px'; t.style.width = (R - L) + 'px';
  t.style.top = (T - 11.5 - 8) + 'px';
  document.body.appendChild(t);

  const tickFont = {family: FONT, size: 8.4};
  new Chart(c, {
    type: 'line',
    data: {
      datasets: p.series.map((d, i) => ({
        label: seriesNames[i], data: d, borderColor: seriesColors[i], backgroundColor: seriesColors[i],
        borderWidth: 1.25, pointRadius: 0, pointHoverRadius: 0, fill: false, tension: 0, order: 4 - i
      }))
    },
    options: {
      responsive: false, animation: false, devicePixelRatio: 1, events: [],
      layout: {padding: {top: padTop, right: padRight, left: 0, bottom: 0}},
      plugins: {legend: {display: false}, tooltip: {enabled: false}, title: {display: false}},
      scales: {
        x: {
          type: 'linear', min: xRange[0], max: xRange[1],
          afterBuildTicks: s => { s.ticks = xTicks.map(v => ({value: v})); },
          afterFit: s => { s.height = xh; },
          ticks: {autoSkip: false, maxRotation: 0, minRotation: 0, padding: 2, color: '#4d4d4d', font: tickFont,
                  callback: v => isIn(xMajor, v) ? String(v) : ''},
          grid: {
            color: ctx => isIn(xMajor, ctx.tick.value) ? '#e4e4e4' : '#f2f2f2',
            tickColor: ctx => isIn(xMajor, ctx.tick.value) ? '#444' : 'rgba(0,0,0,0)',
            tickLength: 3, lineWidth: 1
          },
          border: {display: false}
        },
        y: {
          type: 'linear', min: p.yRange[0], max: p.yRange[1],
          afterBuildTicks: s => { s.ticks = p.yTicks.map(v => ({value: v})); },
          afterFit: s => { s.width = yw; },
          ticks: {autoSkip: false, padding: 2, color: '#4d4d4d', font: tickFont,
                  callback: v => (p.showY && isIn(p.yMajor, v)) ? v.toFixed(p.dec) : ''},
          grid: {
            color: ctx => isIn(p.yMajor, ctx.tick.value) ? '#e4e4e4' : '#f2f2f2',
            tickColor: ctx => isIn(p.yMajor, ctx.tick.value) ? '#444' : 'rgba(0,0,0,0)',
            tickLength: 3, lineWidth: 1
          },
          border: {display: false},
          title: {display: p.showY, text: 'MSFE', color: '#000', font: {family: FONT, size: 10}, padding: {top: 7, bottom: 0}}
        }
      }
    },
    plugins: [recessionPlugin, framePlugin]
  });
}

panels.forEach(makePanel);

// legend
const lg = document.getElementById('legend');
seriesNames.forEach((n, i) => {
  const it = document.createElement('div'); it.className = 'item';
  const k = document.createElement('span'); k.className = 'key'; k.style.background = seriesColors[i];
  const s = document.createElement('span'); s.textContent = n;
  it.appendChild(k); it.appendChild(s); lg.appendChild(it);
});
</script>
</body></html>
